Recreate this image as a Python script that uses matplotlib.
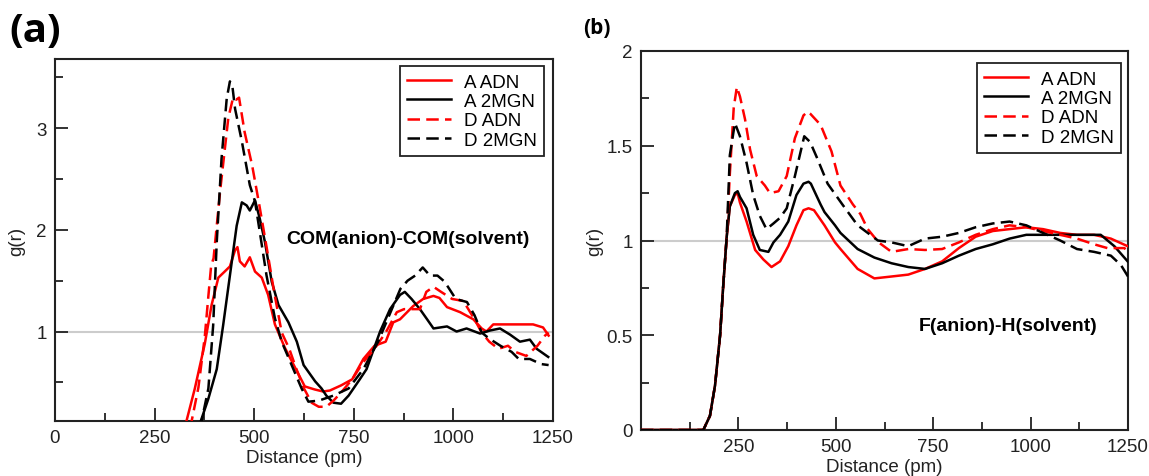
import matplotlib
matplotlib.use("Agg")
import matplotlib.pyplot as plt
from matplotlib.ticker import MultipleLocator

plt.rcParams['font.family'] = ['Liberation Sans', 'DejaVu Sans']

# ---------------- Panel (a): COM(anion)-COM(solvent) ----------------
a_x_A_ADN = [322, 330, 351, 376, 393, 410, 426, 439, 452, 458, 464, 476, 489, 502, 519, 535, 552, 577,
             602, 627, 652, 673, 690, 718, 746, 774, 802, 830, 849, 866, 899, 924, 950, 965, 984, 1017,
             1050, 1071, 1083, 1100, 1150, 1200, 1225, 1239]
a_g_A_ADN = [0.05, 0.12, 0.44, 0.88, 1.26, 1.53, 1.59, 1.64, 1.80, 1.83, 1.69, 1.64, 1.73, 1.59, 1.53, 1.36,
             1.07, 0.84, 0.65, 0.46, 0.43, 0.41, 0.42, 0.47, 0.53, 0.73, 0.86, 0.90, 1.09, 1.12, 1.25, 1.32,
             1.35, 1.33, 1.24, 1.19, 1.12, 1.03, 1.00, 1.07, 1.07, 1.07, 1.04, 0.96]

a_x_A_2MGN = [360, 366, 385, 406, 422, 439, 456, 469, 481, 489, 502, 514, 527, 544, 561, 586, 607, 624,
              653, 669, 681, 699, 718, 737, 765, 782, 816, 841, 866, 878, 895, 916, 934, 950, 984, 1008,
              1033, 1067, 1092, 1117, 1142, 1167, 1192, 1209, 1238]
a_g_A_2MGN = [0.05, 0.12, 0.34, 0.63, 1.06, 1.55, 2.04, 2.27, 2.24, 2.19, 2.29, 2.11, 1.88, 1.49, 1.26,
              1.09, 0.90, 0.67, 0.51, 0.44, 0.37, 0.30, 0.29, 0.37, 0.53, 0.63, 1.00, 1.22, 1.36, 1.39,
              1.32, 1.22, 1.12, 1.03, 1.05, 1.00, 1.03, 0.98, 1.01, 1.03, 0.97, 0.90, 0.92, 0.83, 0.75]

a_x_D_ADN = [335, 343, 360, 376, 385, 392, 398, 405, 415, 425, 435, 447, 455, 462, 476, 495, 513, 532,
             550, 569, 588, 606, 625, 644, 662, 681, 699, 718, 746, 774, 802, 830, 858, 876, 895, 916,
             932, 950, 969, 997, 1025, 1053, 1071, 1090, 1113, 1137, 1155, 1183, 1211, 1230, 1239]
a_g_D_ADN = [0.05, 0.12, 0.45, 0.95, 1.35, 1.65, 1.72, 2.00, 2.40, 2.75, 3.10, 3.30, 3.28, 3.30, 2.96,
             2.63, 2.24, 1.81, 1.39, 0.99, 0.83, 0.63, 0.44, 0.30, 0.26, 0.26, 0.32, 0.40, 0.53, 0.70,
             0.83, 0.99, 1.19, 1.22, 1.22, 1.22, 1.39, 1.44, 1.39, 1.32, 1.30, 1.12, 0.99, 0.90, 0.83,
             0.86, 0.80, 0.76, 0.86, 0.96, 0.99]

a_x_D_2MGN = [360, 368, 385, 397, 406, 418, 431, 439, 445, 452, 469, 489, 502, 514, 531, 552, 569, 594,
              619, 636, 662, 699, 737, 774, 811, 839, 867, 885, 904, 923, 941, 960, 978, 1006, 1034,
              1053, 1071, 1090, 1118, 1146, 1164, 1192, 1220, 1239]
a_g_D_2MGN = [0.05, 0.12, 0.44, 1.06, 1.88, 2.70, 3.29, 3.46, 3.42, 3.19, 2.87, 2.44, 2.28, 1.98, 1.55,
              1.13, 0.90, 0.67, 0.44, 0.31, 0.32, 0.37, 0.44, 0.63, 0.90, 1.16, 1.42, 1.50, 1.55, 1.63,
              1.55, 1.55, 1.49, 1.32, 1.29, 1.16, 0.99, 0.93, 0.86, 0.80, 0.73, 0.73, 0.68, 0.67]

# ---------------- Panel (b): F(anion)-H(solvent) ----------------
b_x_A_ADN = [0, 160, 177, 190, 203, 211, 220, 228, 241, 248, 254, 271, 293, 314, 335, 357, 378, 399, 417,
             430, 444, 471, 498, 512, 556, 599, 643, 686, 729, 773, 816, 859, 903, 946, 989, 1032, 1076,
             1119, 1163, 1206, 1249]
b_g_A_ADN = [0, 0, 0.075, 0.235, 0.50, 0.76, 1.02, 1.18, 1.24, 1.25, 1.20, 1.10, 0.95, 0.90, 0.86, 0.89,
             0.97, 1.08, 1.16, 1.17, 1.16, 1.08, 0.99, 0.955, 0.85, 0.80, 0.81, 0.82, 0.85, 0.89, 0.96,
             1.02, 1.05, 1.06, 1.07, 1.06, 1.04, 1.03, 1.03, 1.01, 0.97]

b_x_A_2MGN = [0, 160, 177, 190, 203, 211, 220, 228, 241, 248, 254, 271, 288, 305, 327, 340, 357, 378,
              399, 417, 430, 436, 461, 471, 498, 512, 556, 599, 643, 686, 729, 773, 816, 859, 903, 946,
              989, 1032, 1076, 1119, 1180, 1215, 1249]
b_g_A_2MGN = [0, 0, 0.075, 0.235, 0.50, 0.76, 1.02, 1.18, 1.25, 1.26, 1.23, 1.17, 1.03, 0.95, 0.94, 0.99,
              1.03, 1.10, 1.24, 1.30, 1.31, 1.30, 1.19, 1.15, 1.08, 1.04, 0.955, 0.91, 0.88, 0.86, 0.85,
              0.88, 0.92, 0.955, 0.98, 1.01, 1.03, 1.03, 1.03, 1.03, 1.03, 0.97, 0.89]

b_x_D_ADN = [0, 160, 177, 190, 203, 211, 220, 228, 238, 246, 254, 267, 280, 297, 318, 331, 353, 374, 395,
             417, 428, 434, 461, 489, 512, 544, 563, 582, 610, 643, 686, 729, 773, 816, 859, 903, 946,
             989, 1032, 1076, 1119, 1163, 1197, 1241, 1250]
b_g_D_ADN = [0, 0, 0.075, 0.235, 0.50, 0.76, 1.02, 1.35, 1.70, 1.81, 1.76, 1.64, 1.48, 1.34, 1.29, 1.25,
             1.26, 1.34, 1.54, 1.66, 1.68, 1.67, 1.61, 1.47, 1.29, 1.19, 1.14, 1.06, 0.99, 0.94, 0.955,
             0.95, 0.955, 0.99, 1.03, 1.06, 1.08, 1.07, 1.05, 1.03, 1.01, 0.98, 0.96, 0.96, 0.93]

b_x_D_2MGN = [0, 160, 177, 190, 203, 211, 220, 228, 241, 254, 271, 288, 305, 322, 340, 357, 374, 395,
              419, 434, 451, 479, 517, 556, 608, 643, 686, 729, 773, 816, 859, 903, 946, 989, 1032, 1076,
              1119, 1163, 1206, 1232, 1250]
b_g_D_2MGN = [0, 0, 0.075, 0.235, 0.50, 0.76, 1.02, 1.45, 1.62, 1.55, 1.41, 1.24, 1.13, 1.06, 1.09, 1.12,
              1.17, 1.34, 1.55, 1.52, 1.44, 1.30, 1.19, 1.08, 1.00, 0.99, 0.97, 1.01, 1.02, 1.04, 1.07,
              1.09, 1.10, 1.08, 1.04, 1.00, 0.955, 0.94, 0.92, 0.87, 0.81]

labels = ["A ADN", "A 2MGN", "D ADN", "D 2MGN"]
xlabel = "Distance (pm)"
ylabel = "g(r)"

RED = "#ff0000"
BLK = "#000000"
LW = 1.8
DASH = (0, (5, 2.5))

fig = plt.figure(figsize=(11.49, 4.77), dpi=100)
ax_a = fig.add_axes([55 / 1149, 1 - 422 / 477, 498 / 1149, 362 / 477])
ax_b = fig.add_axes([641 / 1149, 1 - 431 / 477, 487 / 1149, 379 / 477])


def style(ax, ymaj, ymin):
    for s in ax.spines.values():
        s.set_linewidth(1.5)
        s.set_color("#222222")
    ax.xaxis.set_major_locator(MultipleLocator(250))
    ax.xaxis.set_minor_locator(MultipleLocator(125))
    ax.yaxis.set_major_locator(MultipleLocator(ymaj))
    ax.yaxis.set_minor_locator(MultipleLocator(ymin))
    ax.tick_params(which="both", direction="in", top=False, right=False, labelsize=13.5,
                   width=1.3, color="#222222", labelcolor="#222222")
    ax.tick_params(which="major", length=9.5, pad=6)
    ax.tick_params(which="minor", length=5.5)
    ax.set_xlabel(xlabel, fontsize=13.5, labelpad=2, color="#222222")
    ax.axhline(1.0, color="#cccccc", lw=1.5, zorder=1)


def curves(ax, data):
    (x1, y1), (x2, y2), (x3, y3), (x4, y4) = data
    ax.plot(x1, y1, color=RED, lw=LW, label=labels[0], zorder=3)
    ax.plot(x2, y2, color=BLK, lw=LW, label=labels[1], zorder=3)
    ax.plot(x3, y3, color=RED, lw=LW, ls=DASH, label=labels[2], zorder=3)
    ax.plot(x4, y4, color=BLK, lw=LW, ls=DASH, label=labels[3], zorder=3)


# Panel (a)
style(ax_a, 1, 0.5)
curves(ax_a, [(a_x_A_ADN, a_g_A_ADN), (a_x_A_2MGN, a_g_A_2MGN),
              (a_x_D_ADN, a_g_D_ADN), (a_x_D_2MGN, a_g_D_2MGN)])
ax_a.set_xlim(0, 1250)
ax_a.set_ylim(0.12, 3.68)
ax_a.set_yticks([1, 2, 3])
ax_a.set_ylabel(ylabel, fontsize=13.5, labelpad=8, color="#222222")
ax_a.text(885, 1.91, "COM(anion)-COM(solvent)", fontsize=14, fontweight="bold",
          ha="center", va="center")

# Panel (b)
style(ax_b, 0.5, 0.25)
curves(ax_b, [(b_x_A_ADN, b_g_A_ADN), (b_x_A_2MGN, b_g_A_2MGN),
              (b_x_D_ADN, b_g_D_ADN), (b_x_D_2MGN, b_g_D_2MGN)])
ax_b.set_xlim(0, 1250)
ax_b.set_ylim(0, 2)
ax_b.set_xticks([250, 500, 750, 1000, 1250])
ax_b.set_yticks([0, 0.5, 1, 1.5, 2])
ax_b.set_yticklabels(["0", "0.5", "1", "1.5", "2"])
ax_b.set_ylabel(ylabel, fontsize=13.5, labelpad=2, color="#222222")
ax_b.text(942, 0.55, "F(anion)-H(solvent)", fontsize=14, fontweight="bold",
          ha="center", va="center")

for ax, anchor in ((ax_a, (1 - 9 / 498, 1 - 7 / 362)), (ax_b, (1 - 7 / 487, 1 - 12 / 379))):
    leg = ax.legend(loc="upper right", bbox_to_anchor=anchor, borderaxespad=0, fontsize=13.5,
                    frameon=True, fancybox=False, edgecolor="#222222", framealpha=1,
                    handlelength=2.3, handletextpad=0.7, labelspacing=0.12, borderpad=0.4)
    leg.get_frame().set_linewidth(1.3)

fig.text(9 / 1149, 1 - 12 / 477, "(a)", fontsize=29, fontweight="bold", family="Open Sans",
         ha="left", va="top")
fig.text(583 / 1149, 1 - 18 / 477, "(b)", fontsize=15, fontweight="bold", family="Open Sans",
         ha="left", va="top")

fig.savefig("out.png", dpi=100)
